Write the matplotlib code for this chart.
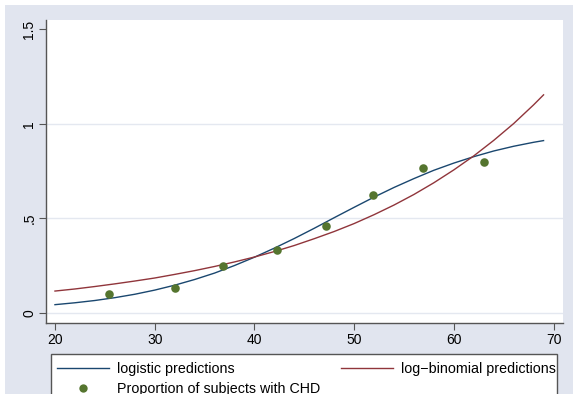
import numpy as np
import matplotlib.pyplot as plt
from matplotlib.patches import Rectangle
from matplotlib.lines import Line2D

plt.rcParams['font.family'] = ['Liberation Sans', 'DejaVu Sans']

# grouped data: mean age and proportion with CHD
age_grp = [25.4, 32.0, 36.9, 42.3, 47.2, 51.9, 56.9, 63.0]
prop_chd = [0.100, 0.133, 0.250, 0.333, 0.462, 0.625, 0.765, 0.800]

# fitted curves
age_fit = [20, 22, 24, 26, 28, 30, 32, 34, 36, 38, 40, 42, 44,
           46, 48, 50, 52, 54, 56, 58, 60, 62, 64, 66, 68, 69]
logit_pred = [0.044, 0.054, 0.066, 0.081, 0.099, 0.121, 0.147, 0.177, 0.211,
              0.251, 0.295, 0.343, 0.394, 0.448, 0.504, 0.559, 0.613, 0.664,
              0.711, 0.755, 0.793, 0.827, 0.857, 0.882, 0.903, 0.912]
logbin_pred = [0.116, 0.127, 0.140, 0.154, 0.169, 0.185, 0.204, 0.224, 0.246,
               0.270, 0.296, 0.325, 0.357, 0.393, 0.431, 0.473, 0.520, 0.571,
               0.627, 0.689, 0.757, 0.831, 0.913, 1.002, 1.101, 1.154]

xticks = [20, 30, 40, 50, 60, 70]
yticks = [0, 0.5, 1, 1.5]
ylabels = ['0', '.5', '1', '1.5']

bg = '#E1E5EF'
navy = '#1A476F'
maroon = '#90353B'
green = '#55752F'
axcol = '#555555'

fig = plt.figure(figsize=(5.73, 3.94), dpi=100, facecolor='white')
fig.patches.append(Rectangle((5 / 573, 0), 1, 1 - 5 / 394, transform=fig.transFigure,
                             facecolor=bg, edgecolor='none', zorder=-10))

ax = fig.add_axes([46 / 573, 71 / 394, 517 / 573, 303 / 394])
ax.set_facecolor('white')

ax.plot(age_fit, logit_pred, color=navy, lw=1.0, zorder=3)
ax.plot(age_fit, logbin_pred, color=maroon, lw=1.0, zorder=3)
ax.scatter(age_grp, prop_chd, s=38, color=green, zorder=4, linewidths=0)

ax.set_xlim(19.1, 70.95)
ax.set_ylim(-0.053, 1.55)
ax.set_xticks(xticks)
ax.set_yticks(yticks)
ax.set_yticklabels(ylabels, rotation=90, va='center')
for y in [0, 0.5, 1]:
    ax.axhline(y, color='#E4E8F0', lw=1.0, zorder=1)

for s in ['top', 'right']:
    ax.spines[s].set_visible(False)
for s in ['left', 'bottom']:
    ax.spines[s].set_color(axcol)
    ax.spines[s].set_linewidth(1.0)
ax.tick_params(direction='out', length=5, width=0.8, color=axcol,
               labelsize=10, pad=2)

# legend box, cut off by the bottom edge like the original
fig.patches.append(Rectangle((51 / 573, -0.1), 506 / 573, 40 / 394 + 0.1,
                             transform=fig.transFigure, facecolor='white',
                             edgecolor=axcol, lw=1.0, zorder=1))

handles = [Line2D([], [], color=navy, lw=1.0),
           Line2D([], [], ls='none', marker='o', ms=6, color=green, mec='none'),
           Line2D([], [], color=maroon, lw=1.0)]
labels = ['logistic predictions', 'Proportion of subjects with CHD',
          'log\u2212binomial predictions']
leg = fig.legend(handles, labels, ncol=2, loc='upper left',
                 bbox_to_anchor=(57 / 573, 32 / 394, 499 / 573, 0.0),
                 mode='expand', fontsize=10.3, frameon=False,
                 handlelength=3.6, handletextpad=0.6, borderpad=0,
                 labelspacing=0.4, borderaxespad=0)
leg.set_zorder(2)

fig.savefig('out.png', dpi=100, facecolor=fig.get_facecolor())
